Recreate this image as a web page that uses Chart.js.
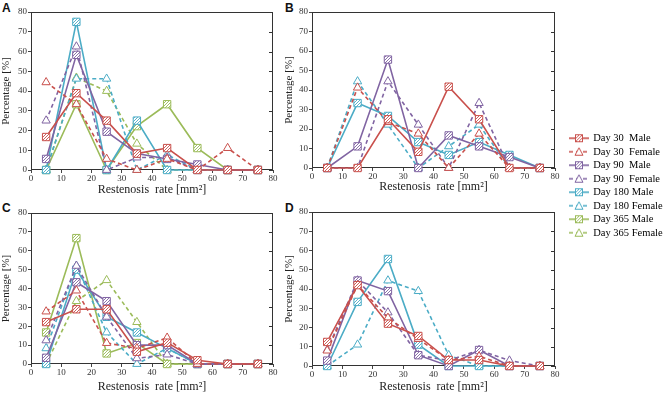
<!DOCTYPE html>
<html>
<head>
<meta charset="utf-8">
<script src="https://cdn.jsdelivr.net/npm/chart.js@4.4.1/dist/chart.umd.min.js"></script>
<style>
  body { margin: 0; background: #fff; width: 668px; height: 394px; position: relative; overflow: hidden; }
  canvas { position: absolute; }
  .tag { position: absolute; font: bold 12px "Liberation Sans", Arial, sans-serif; line-height: 12px; color: #111; }
</style>
</head>
<body>
<div class="tag" style="left:2px;top:2px">A</div>
<div class="tag" style="left:285px;top:2px">B</div>
<div class="tag" style="left:2px;top:202px">C</div>
<div class="tag" style="left:285px;top:202px">D</div>

<canvas id="chartA" width="280" height="197" style="left:0;top:0"></canvas>
<canvas id="chartB" width="285" height="197" style="left:280px;top:0"></canvas>
<canvas id="chartC" width="280" height="197" style="left:0;top:197px"></canvas>
<canvas id="chartD" width="285" height="197" style="left:280px;top:197px"></canvas>
<canvas id="legend" width="101" height="260" style="left:567px;top:130px"></canvas>

<script>
// restenosis rate classes (centre of each 10 mm2 bin)
const rates = [5, 15, 25, 35, 45, 55, 65, 75]
const seriesNames = ['Day 30  Male', 'Day 30  Female', 'Day 90  Male', 'Day 90  Female',
  'Day 180 Male', 'Day 180 Female', 'Day 365 Male', 'Day 365 Female']
const axisTicks = [0, 10, 20, 30, 40, 50, 60, 70, 80]

// panel A
const aDay30Male = [16.7, 38.9, 25, 8.3, 11.1, 0, 0, 0]
const aDay30Female = [44.4, 33.3, 5.6, 0, 5.6, 0, 11.1, 0]
const aDay90Male = [5.6, 58.3, 19.4, 8.3, 5.6, 2.8, 0, 0]
const aDay90Female = [25, 62.5, 0, 6.3, 6.3, 0, 0, 0]
const aDay180Male = [0, 75, 0, 25, 0, 0, 0, 0]
const aDay180Female = [0, 46.2, 46.2, 0, 7.7, 0, 0, 0]
const aDay365Male = [0, 33.3, 0, 22.2, 33.3, 11.1, 0, 0]
const aDay365Female = [0, 46.7, 40, 13.3, 0, 0, 0, 0]

// panel B (no day 365)
const bDay30Male = [0, 0, 25, 8.3, 41.7, 25, 0, 0]
const bDay30Female = [0, 41.2, 23.5, 17.6, 0, 17.6, 0, 0]
const bDay90Male = [0, 11.1, 55.6, 0, 16.7, 11.1, 5.6, 0]
const bDay90Female = [0, 0, 44.4, 22.2, 0, 33.3, 0, 0]
const bDay180Male = [0, 33.3, 26.7, 13.3, 6.7, 13.3, 6.7, 0]
const bDay180Female = [0, 44.4, 22.2, 0, 11.1, 22.2, 0, 0]

// panel C
const cDay30Male = [22.2, 29, 29, 6.5, 11.3, 2, 0, 0]
const cDay30Female = [27.8, 38.9, 11.1, 8.3, 13.9, 0, 0, 0]
const cDay90Male = [3.3, 43.3, 33.3, 10, 10, 0, 0, 0]
const cDay90Female = [12.5, 52, 25, 3, 5, 0, 0, 0]
const cDay180Male = [0, 50, 25, 16.7, 8.3, 0, 0, 0]
const cDay180Female = [8.3, 52, 16.7, 0, 8.3, 0, 0, 0]
const cDay365Male = [16.7, 66.7, 5.6, 11.1, 0, 0, 0, 0]
const cDay365Female = [0, 33.3, 44.4, 22.2, 0, 0, 0, 0]

// panel D (no day 365)
const dDay30Male = [12.5, 42, 22, 15.6, 3.1, 3.1, 0, 0]
const dDay30Female = [8, 42, 25, 14, 3, 5, 0, 0]
const dDay90Male = [2.8, 44.4, 38.9, 5.6, 0, 8.3, 0, 0]
const dDay90Female = [8.3, 44.4, 27.8, 5.6, 2.8, 8.3, 2.8, 0]
const dDay180Male = [0, 33.3, 55.6, 11.1, 0, 0, 0, 0]
const dDay180Female = [0, 11.1, 44.4, 38.9, 5.6, 0, 0, 0]

const colors = ['#c9504c', '#c9504c', '#8064a2', '#8064a2', '#4bacc6', '#4bacc6', '#9bbb59', '#9bbb59']
const serif = '"Liberation Serif", "Times New Roman", serif'

// fine diagonal hatch used inside the square markers
function hatch(color) {
  const c = document.createElement('canvas')
  c.width = 3
  c.height = 3
  const g = c.getContext('2d')
  g.fillStyle = '#fff'
  g.fillRect(0, 0, 3, 3)
  g.strokeStyle = color
  g.lineWidth = 0.9
  g.beginPath()
  g.moveTo(0, 3); g.lineTo(3, 0)
  g.moveTo(-1, 1); g.lineTo(1, -1)
  g.moveTo(2, 4); g.lineTo(4, 2)
  g.stroke()
  return g.createPattern(c, 'repeat')
}

function legendIcon(i) {
  const c = document.createElement('canvas')
  c.width = 20
  c.height = 10
  const g = c.getContext('2d')
  const male = i % 2 === 0
  g.strokeStyle = colors[i]
  g.lineWidth = 1.6
  g.setLineDash(male ? [] : [4, 3])
  g.beginPath(); g.moveTo(0, 5); g.lineTo(20, 5); g.stroke()
  g.setLineDash([])
  g.lineWidth = 1
  if (male) {
    g.fillStyle = hatch(colors[i])
    g.fillRect(6.5, 1.5, 7, 7)
    g.strokeRect(6.5, 1.5, 7, 7)
  } else {
    g.fillStyle = '#fff'
    g.beginPath(); g.moveTo(10, 1); g.lineTo(14, 8.5); g.lineTo(6, 8.5); g.closePath()
    g.fill(); g.stroke()
  }
  return c
}

function makeDataset(i, values) {
  const male = i % 2 === 0
  return {
    label: seriesNames[i],
    data: rates.map((x, k) => ({ x, y: values[k] })),
    borderColor: colors[i],
    borderWidth: 1.6,
    borderDash: male ? [] : [4, 3],
    pointStyle: male ? 'rect' : 'triangle',
    pointRadius: male ? 5.2 : 4.8,
    pointBorderWidth: 1,
    pointBorderColor: colors[i],
    pointBackgroundColor: male ? hatch(colors[i]) : '#fff',
    backgroundColor: male ? hatch(colors[i]) : '#fff',
    tension: 0,
    clip: false,
  }
}

// box round the plot and inward ticks on the right edge
const framePlugin = {
  id: 'frame',
  beforeDatasetsDraw(chart) {
    const { ctx, chartArea: a } = chart
    const y = chart.scales.y
    ctx.save()
    ctx.strokeStyle = '#333'
    ctx.lineWidth = 1
    ctx.strokeRect(Math.round(a.left) + 0.5, Math.round(a.top) + 0.5,
      Math.round(a.right - a.left) - 1, Math.round(a.bottom - a.top) - 1)
    ctx.beginPath()
    axisTicks.forEach((v) => {
      const py = Math.round(y.getPixelForValue(v)) + 0.5
      ctx.moveTo(a.right - 4, py)
      ctx.lineTo(a.right, py)
    })
    ctx.stroke()
    ctx.restore()
  },
}

function panel(id, datasets, box) {
  return new Chart(document.getElementById(id), {
    type: 'line',
    data: { datasets },
    plugins: [framePlugin],
    options: {
      responsive: false,
      animation: false,
      devicePixelRatio: 1,
      layout: { padding: { top: box.top, right: box.right, left: 0, bottom: 0 } },
      plugins: { legend: { display: false }, tooltip: { enabled: false } },
      scales: {
        x: {
          type: 'linear', min: 0, max: 80,
          afterBuildTicks: (s) => { s.ticks = axisTicks.map((v) => ({ value: v })) },
          afterFit: (s) => { s.height = box.xh },
          border: { display: false },
          grid: { drawOnChartArea: false, tickLength: 3, color: '#444' },
          ticks: { font: { family: serif, size: 9 }, color: '#333', padding: 0, maxRotation: 0 },
          title: { display: true, text: 'Restenosis  rate [mm²]', font: { family: serif, size: 12 }, color: '#222', padding: { top: 0, bottom: box.xtPad } },
        },
        y: {
          min: 0, max: 80,
          afterBuildTicks: (s) => { s.ticks = axisTicks.map((v) => ({ value: v })) },
          afterFit: (s) => { s.width = box.yw },
          border: { display: false },
          grid: { drawOnChartArea: false, tickLength: 3, color: '#444' },
          ticks: { font: { family: serif, size: 9 }, color: '#333', padding: 1 },
          title: { display: true, text: 'Percentage [%]', font: { family: serif, size: 11 }, color: '#222', padding: { top: box.ytPad, bottom: 0 } },
        },
      },
    },
  })
}

const fullSet = (list) => list.map((vals, i) => makeDataset(i, vals))

panel('chartA', fullSet([aDay30Male, aDay30Female, aDay90Male, aDay90Female, aDay180Male, aDay180Female, aDay365Male, aDay365Female]),
  { top: 12, right: 7, yw: 31, xh: 27, xtPad: 0, ytPad: 0 })
panel('chartB', fullSet([bDay30Male, bDay30Female, bDay90Male, bDay90Female, bDay180Male, bDay180Female]),
  { top: 12, right: 10, yw: 32, xh: 29, xtPad: 3, ytPad: 2.5 })
panel('chartC', fullSet([cDay30Male, cDay30Female, cDay90Male, cDay90Female, cDay180Male, cDay180Female, cDay365Male, cDay365Female]),
  { top: 16, right: 7, yw: 31, xh: 30, xtPad: 0, ytPad: 0 })
panel('chartD', fullSet([dDay30Male, dDay30Female, dDay90Male, dDay90Female, dDay180Male, dDay180Female]),
  { top: 15, right: 10, yw: 32, xh: 28, xtPad: 0, ytPad: 2.5 })

// shared legend
const icons = seriesNames.map((n, i) => legendIcon(i))
new Chart(document.getElementById('legend'), {
  type: 'line',
  data: { datasets: seriesNames.map((n) => ({ label: n, data: [] })) },
  options: {
    responsive: false,
    animation: false,
    devicePixelRatio: 1,
    scales: { x: { display: false }, y: { display: false } },
    plugins: {
      tooltip: { enabled: false },
      legend: {
        position: 'top',
        align: 'start',
        labels: {
          usePointStyle: true,
          pointStyleWidth: 18,
          padding: 3,
          color: '#222',
          font: { family: serif, size: 10.5 },
          generateLabels: () => seriesNames.map((n, i) => ({
            text: n,
            pointStyle: icons[i],
            fillStyle: 'transparent',
            strokeStyle: 'transparent',
            lineWidth: 0,
            hidden: false,
            datasetIndex: i,
          })),
        },
      },
    },
  },
})
</script>
</body>
</html>
